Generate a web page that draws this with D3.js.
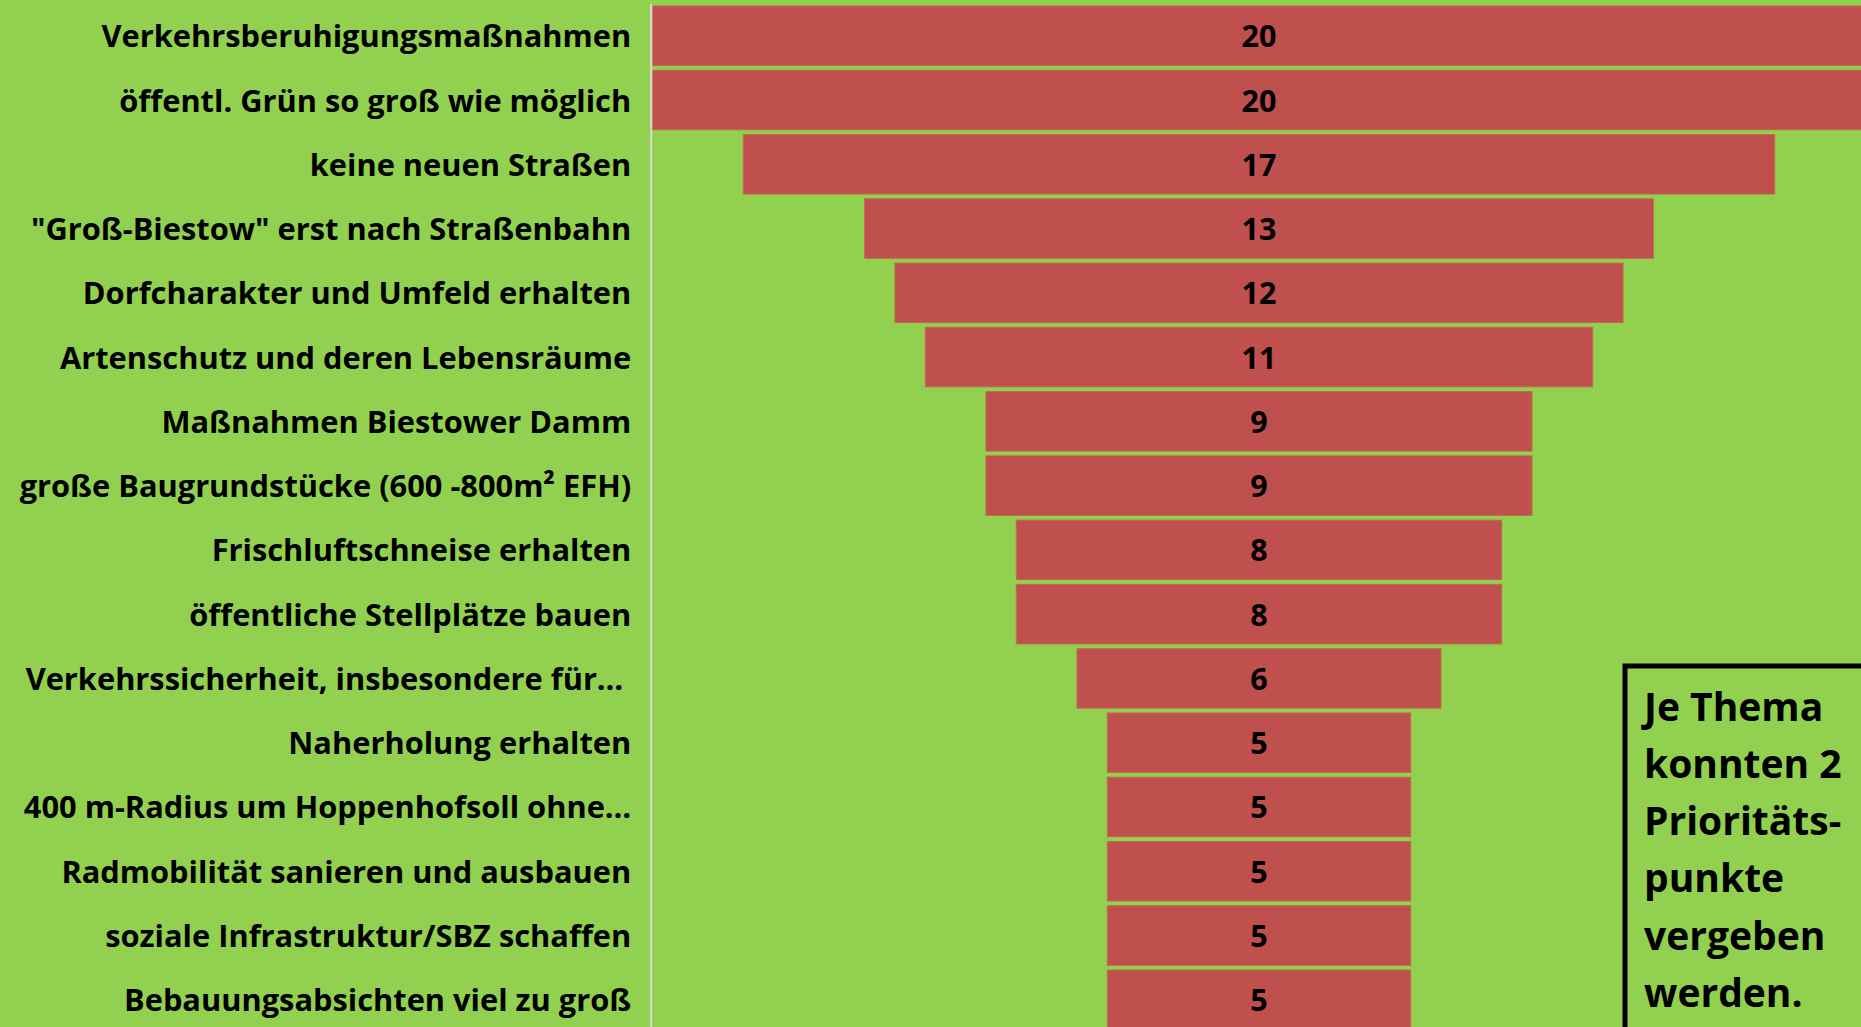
<!DOCTYPE html>
<html>
<head>
<meta charset="utf-8">
<style>
  html, body { margin: 0; padding: 0; background: #92d050; overflow: hidden; }
  svg { display: block; }
  .axis path { stroke: #d9d9d9; stroke-width: 2px; }
  .axis text, .val, .note { font-family: "Open Sans", sans-serif; font-weight: bold; fill: #000; white-space: pre; }
</style>
<script src="https://d3js.org/d3.v7.min.js"></script>
</head>
<body>
<script>
// topics (top to bottom) and priority points
var topics = [
  "Verkehrsberuhigungsmaßnahmen",
  "öffentl. Grün so groß wie möglich",
  "keine neuen Straßen",
  "\"Groß-Biestow\" erst nach Straßenbahn",
  "Dorfcharakter und Umfeld erhalten",
  "Artenschutz und deren Lebensräume",
  "Maßnahmen Biestower Damm",
  "große Baugrundstücke (600 -800m² EFH)",
  "Frischluftschneise erhalten",
  "öffentliche Stellplätze bauen",
  "Verkehrssicherheit, insbesondere für… ",
  "Naherholung erhalten",
  "400 m-Radius um Hoppenhofsoll ohne…",
  "Radmobilität sanieren und ausbauen",
  "soziale Infrastruktur/SBZ schaffen",
  "Bebauungsabsichten viel zu groß"
];
var points = [20, 20, 17, 13, 12, 11, 9, 9, 8, 8, 6, 5, 5, 5, 5, 5];

var noteLines = ["Je Thema", "konnten 2", "Prioritäts-", "punkte", "vergeben", "werden."];

var W = 1861, H = 1027;

var svg = d3.select("body").append("svg")
    .attr("width", W)
    .attr("height", H);

var maxVal = d3.max(points);

// funnel: bars centred on 0
var x = d3.scaleLinear()
    .domain([-maxVal / 2, maxVal / 2])
    .range([652.3, 1865.7]);

var y = d3.scaleBand()
    .domain(topics)
    .range([3.6, 3.6 + topics.length * 64.27])
    .paddingInner(0.074)
    .paddingOuter(0.037);

var rows = topics.map(function(t, i) { return { topic: t, value: points[i] }; });

svg.selectAll("rect.bar")
    .data(rows)
    .enter().append("rect")
    .attr("class", "bar")
    .attr("x", function(d) { return x(-d.value / 2); })
    .attr("y", function(d) { return y(d.topic); })
    .attr("width", function(d) { return x(d.value / 2) - x(-d.value / 2); })
    .attr("height", y.bandwidth())
    .attr("fill", "#c0504d")
    .attr("stroke", "#c4684c")
    .attr("stroke-width", 1);

svg.selectAll("text.val")
    .data(rows)
    .enter().append("text")
    .attr("class", "val")
    .attr("x", x(0))
    .attr("y", function(d) { return y(d.topic) + y.bandwidth() / 2 + 11.5; })
    .attr("text-anchor", "middle")
    .style("font-size", "30.5px")
    .text(function(d) { return d.value; });

// category axis
var axisG = svg.append("g")
    .attr("class", "axis")
    .attr("transform", "translate(650.7,0)")
    .call(d3.axisLeft(y).tickSize(0).tickPadding(19.5).tickSizeOuter(0));

axisG.selectAll("text")
    .attr("dy", null)
    .attr("y", 11.5)
    .style("font-size", "30.8px");

// note box
var note = svg.append("g").attr("class", "notebox");
note.append("rect")
    .attr("x", 1625)
    .attr("y", 666)
    .attr("width", 400)
    .attr("height", 500)
    .attr("fill", "none")
    .attr("stroke", "#000")
    .attr("stroke-width", 5);

note.append("text")
    .attr("class", "note")
    .style("font-size", "39px")
    .selectAll("tspan")
    .data(noteLines)
    .enter().append("tspan")
    .attr("x", 1644)
    .attr("y", function(d, i) { return 720.7 + i * 57.2; })
    .text(function(d) { return d; });
</script>
</body>
</html>
